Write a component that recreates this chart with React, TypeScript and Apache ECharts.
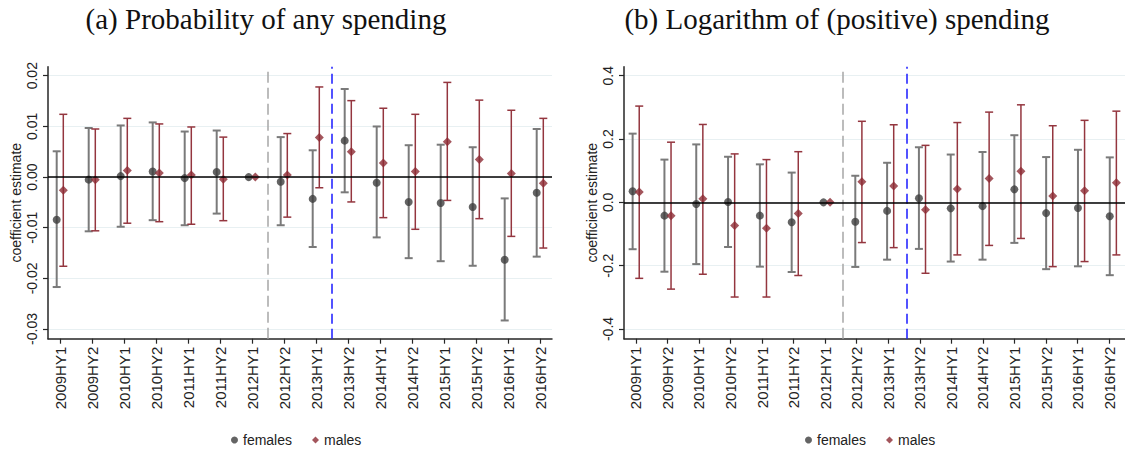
import React, { useEffect, useRef } from "react";
import * as echarts from "echarts";

// ---------- data ----------
const categories = [
  "2009HY1", "2009HY2", "2010HY1", "2010HY2", "2011HY1", "2011HY2", "2012HY1", "2012HY2",
  "2013HY1", "2013HY2", "2014HY1", "2014HY2", "2015HY1", "2015HY2", "2016HY1", "2016HY2",
];
const panelTitles = ["(a) Probability of any spending", "(b) Logarithm of (positive) spending"];
const seriesNames = ["females", "males"];
const yAxisName = "coefficient estimate";

// Panel (a): probability of any spending
const femalesEstA = [-0.0084, -0.0005, 0.0002, 0.0011, -0.0002, 0.001, 0, -0.0009, -0.0043, 0.0072, -0.0011, -0.0049, -0.0051, -0.0059, -0.0163, -0.0031];
const femalesLoA = [-0.0217, -0.0107, -0.0098, -0.0085, -0.0095, -0.0072, 0, -0.0095, -0.0138, -0.003, -0.0119, -0.016, -0.0166, -0.0175, -0.0283, -0.0157];
const femalesHiA = [0.0051, 0.0097, 0.0102, 0.0108, 0.009, 0.0092, 0, 0.0079, 0.0053, 0.0174, 0.01, 0.0063, 0.0064, 0.0059, -0.0042, 0.0095];
const malesEstA = [-0.0026, -0.0005, 0.0013, 0.0008, 0.0004, -0.0004, 0, 0.0004, 0.0078, 0.005, 0.0028, 0.0011, 0.007, 0.0035, 0.0007, -0.0012];
const malesLoA = [-0.0176, -0.0106, -0.0091, -0.0088, -0.0093, -0.0086, 0, -0.0079, -0.0021, -0.0049, -0.008, -0.0103, -0.0046, -0.0082, -0.0117, -0.014];
const malesHiA = [0.0124, 0.0095, 0.0116, 0.0105, 0.0099, 0.0079, 0, 0.0086, 0.0178, 0.0151, 0.0136, 0.0124, 0.0187, 0.0152, 0.0132, 0.0116];

// Panel (b): logarithm of (positive) spending
const femalesEstB = [0.035, -0.042, -0.005, 0.001, -0.042, -0.063, 0, -0.061, -0.027, 0.013, -0.019, -0.012, 0.041, -0.034, -0.018, -0.044];
const femalesLoB = [-0.148, -0.219, -0.195, -0.141, -0.203, -0.22, 0, -0.204, -0.181, -0.147, -0.187, -0.181, -0.128, -0.211, -0.202, -0.23];
const femalesHiB = [0.217, 0.135, 0.183, 0.144, 0.12, 0.094, 0, 0.084, 0.125, 0.174, 0.151, 0.159, 0.212, 0.143, 0.166, 0.142];
const malesEstB = [0.033, -0.042, 0.011, -0.073, -0.082, -0.035, 0, 0.065, 0.052, -0.023, 0.042, 0.075, 0.098, 0.02, 0.037, 0.062];
const malesLoB = [-0.24, -0.274, -0.227, -0.299, -0.299, -0.231, 0, -0.127, -0.143, -0.224, -0.166, -0.136, -0.114, -0.203, -0.187, -0.166];
const malesHiB = [0.304, 0.19, 0.246, 0.153, 0.135, 0.16, 0, 0.256, 0.245, 0.18, 0.252, 0.285, 0.308, 0.242, 0.259, 0.288];

// y tick settings per panel: [min, max, interval, decimals]
const yTicksA = [-0.03, 0.02, 0.01, 2];
const yTicksB = [-0.4, 0.4, 0.2, 1];
// vertical reference lines (between 2012HY1/2012HY2 and 2013HY1/2013HY2), in category units
const refLineGray = 7.5;
const refLineBlue = 9.5;

// ---------- styles / layout ----------
const SANS = "'Liberation Sans', Arial, sans-serif";
const SERIF = "'Liberation Serif', 'Times New Roman', serif";
const FEMALE_DOT = "#3d3d3d";
const FEMALE_BAR = "#7a7a7a";
const MALE_DOT = "#8c2a33";
const MALE_BAR = "#94363f";
const GRID_LINE = "#e8f0f2";
const AXIS = "#262626";

const PLOT_TOP = 66.7;
const PLOT_H = 272;
const TICK_TOP = 75.7;
const TICK_H = 253.3;
const CAT_W = 32;
const X_PAD = 0.375;

const panels = [
  {
    left: 48,
    ticks: yTicksA,
    yMin: -0.0319,
    yMax: 0.0218,
    f: [femalesEstA, femalesLoA, femalesHiA],
    m: [malesEstA, malesLoA, malesHiA],
    titleX: 266,
    legendLeft: 226,
  },
  {
    left: 624,
    ticks: yTicksB,
    yMin: -0.4306,
    yMax: 0.4284,
    f: [femalesEstB, femalesLoB, femalesHiB],
    m: [malesEstB, malesLoB, malesHiB],
    titleX: 837,
    legendLeft: 800,
  },
];

function buildOption() {
  const grid: any[] = [];
  const xAxis: any[] = [];
  const yAxis: any[] = [];
  const series: any[] = [];
  const legend: any[] = [];
  const graphic: any[] = [];
  const n = categories.length;
  const dataW = (n - 1 + 2 * X_PAD) * CAT_W;

  panels.forEach((p, pi) => {
    const g0 = pi * 3;
    const [tMin, tMax, tInt, dec] = p.ticks as number[];
    grid.push({ left: p.left, top: PLOT_TOP, width: dataW, height: PLOT_H });
    grid.push({ left: p.left, top: TICK_TOP, width: dataW, height: TICK_H });
    grid.push({ left: p.left - (0.5 - X_PAD) * CAT_W, top: PLOT_TOP, width: n * CAT_W, height: PLOT_H });

    xAxis.push({
      gridIndex: g0, type: "value", min: 1 - X_PAD, max: n + X_PAD,
      axisLine: { show: true, onZero: false, lineStyle: { color: AXIS, width: 1.5 } },
      axisTick: { show: false }, axisLabel: { show: false }, splitLine: { show: false },
    });
    yAxis.push({
      gridIndex: g0, type: "value", min: p.yMin, max: p.yMax,
      axisLine: { show: true, lineStyle: { color: AXIS, width: 1.5 } },
      axisTick: { show: false }, axisLabel: { show: false }, splitLine: { show: false },
      name: yAxisName, nameLocation: "middle", nameRotate: 90, nameGap: 25,
      nameTextStyle: { fontFamily: SANS, fontSize: 14, color: "#222" },
    });
    xAxis.push({ gridIndex: g0 + 1, type: "value", min: 0, max: 1, show: false });
    yAxis.push({
      gridIndex: g0 + 1, type: "value", min: tMin, max: tMax, interval: tInt,
      axisLine: { show: false },
      axisTick: { show: true, length: 5, lineStyle: { color: AXIS, width: 1.2 } },
      axisLabel: {
        show: true, rotate: 90, margin: 9, fontFamily: SANS, fontSize: 14, color: "#222",
        formatter: (v: number) => v.toFixed(dec),
      },
      splitLine: { show: true, lineStyle: { color: GRID_LINE, width: 1.2 } },
    });
    xAxis.push({
      gridIndex: g0 + 2, type: "category", data: categories, boundaryGap: true,
      axisLine: { show: false },
      axisTick: { show: true, alignWithLabel: true, length: 5, lineStyle: { color: AXIS, width: 1.2 } },
      axisLabel: { show: true, rotate: 90, interval: 0, margin: 8, fontFamily: SANS, fontSize: 15, color: "#222" },
      splitLine: { show: false },
    });
    yAxis.push({ gridIndex: g0 + 2, type: "value", show: false });

    series.push({
      type: "line", xAxisIndex: g0, yAxisIndex: g0, data: [], z: 3, silent: true,
      markLine: {
        silent: true, symbol: "none", label: { show: false }, animation: false,
        data: [
          { xAxis: refLineGray, lineStyle: { color: "#a6a6a6", type: [11, 5], width: 1.5 } },
          { xAxis: refLineBlue, lineStyle: { color: "#1a1aff", type: [10, 5], width: 1.5 } },
          { yAxis: 0, lineStyle: { color: "#000", type: "solid", width: 1.5 } },
        ],
      },
    });

    const groups = [
      { name: seriesNames[0], d: p.f, dot: FEMALE_DOT, bar: FEMALE_BAR, lw: 2, off: -3.3, sym: "circle", size: 8 },
      { name: seriesNames[1], d: p.m, dot: MALE_DOT, bar: MALE_BAR, lw: 1.5, off: 3.3, sym: "diamond", size: 9 },
    ];
    groups.forEach((gr) => {
      const [est, lo, hi] = gr.d;
      series.push({
        type: "custom", name: gr.name + " CI", xAxisIndex: g0, yAxisIndex: g0, z: 2, silent: true,
        data: categories.map((_, i) => [i + 1, lo[i], hi[i]]),
        renderItem: (params: any, api: any) => {
          const x = api.value(0);
          const l = api.value(1);
          const h = api.value(2);
          if (l === h) return null;
          const a = api.coord([x, l]);
          const b = api.coord([x, h]);
          const cx = a[0] + gr.off;
          const st = { stroke: gr.bar, lineWidth: gr.lw };
          return {
            type: "group",
            children: [
              { type: "line", shape: { x1: cx, y1: a[1], x2: cx, y2: b[1] }, style: st },
              { type: "line", shape: { x1: cx - 4, y1: a[1], x2: cx + 4, y2: a[1] }, style: st },
              { type: "line", shape: { x1: cx - 4, y1: b[1], x2: cx + 4, y2: b[1] }, style: st },
            ],
          };
        },
      });
      series.push({
        type: "scatter", name: gr.name, xAxisIndex: g0, yAxisIndex: g0, z: 4,
        symbol: gr.sym, symbolSize: gr.size, symbolOffset: [gr.off, 0],
        itemStyle: { color: gr.dot },
        data: categories.map((_, i) => [i + 1, est[i]]),
      });
    });

    legend.push({
      left: p.legendLeft, top: 428, orient: "horizontal", itemGap: 20, itemWidth: 7, itemHeight: 7,
      textStyle: { fontFamily: SANS, fontSize: 14, color: "#222" },
      data: [
        { name: seriesNames[0], icon: "circle", itemStyle: { color: FEMALE_DOT } },
        { name: seriesNames[1], icon: "diamond", itemStyle: { color: MALE_DOT } },
      ],
    });

    graphic.push({
      type: "text", x: p.titleX, y: 19,
      style: {
        text: panelTitles[pi], font: `29px ${SERIF}`, fill: "#111",
        textAlign: "center", textVerticalAlign: "middle",
      },
    });
  });

  return {
    animation: false,
    backgroundColor: "#fff",
    grid, xAxis, yAxis, series, legend, graphic,
  };
}

export default function App() {
  const ref = useRef<HTMLDivElement>(null);
  useEffect(() => {
    if (!ref.current) return;
    const chart = echarts.init(ref.current, undefined, { renderer: "svg" });
    chart.setOption(buildOption() as any);
    return () => chart.dispose();
  }, []);
  return (
    <div
      ref={ref}
      style={{ position: "fixed", left: 0, top: 0, width: 1125, height: 451, background: "#fff" }}
    />
  );
}
